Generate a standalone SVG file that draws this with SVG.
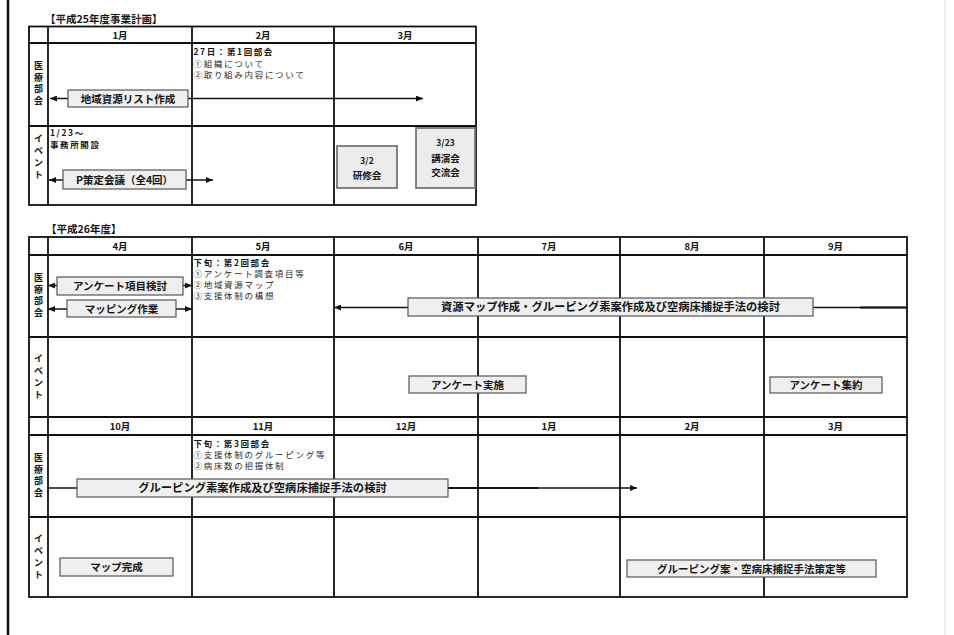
<svg xmlns="http://www.w3.org/2000/svg" width="954" height="635" viewBox="0 0 954 635">
<style>
text{font-family:"Noto Sans CJK JP","Noto Sans",sans-serif;fill:#151515}
.title{font-size:10.5px;font-weight:bold}
.hdr{font-size:9.5px;font-weight:bold;text-anchor:middle}
.lbl{font-size:9px;font-weight:bold;text-anchor:middle}
.note{font-size:8.5px;letter-spacing:1.7px;fill:#2a2a2a}
.noteh{font-size:8.5px;letter-spacing:1.6px;font-weight:bold}
.box rect{fill:#efefef;stroke:#555;stroke-width:1.2}
.box text{font-size:10.5px;font-weight:bold;text-anchor:middle}
.box .big{font-size:11.3px}
.ev rect{fill:#ececec;stroke:#777;stroke-width:1.8}
.ev text{font-weight:bold;text-anchor:middle}
.grid{stroke:#111;stroke-width:1.8;fill:none}
.conn line{stroke:#111;stroke-width:1.3}
</style>
<defs>
<marker id="ah" viewBox="0 0 7 6" refX="7" refY="3" markerWidth="7" markerHeight="6" markerUnits="userSpaceOnUse" orient="auto-start-reverse">
<path d="M0,0 L7,3 L0,6 z" fill="#111"/>
</marker>
</defs>
<rect x="0" y="0" width="954" height="635" fill="#fff"/>
<line x1="8" y1="0" x2="8" y2="635" stroke="#111" stroke-width="2.5"/>
<line x1="945" y1="0" x2="945" y2="635" stroke="#e8e8e8" stroke-width="1.5"/>

<!-- Table 1 -->
<g id="table1">
<text class="title" x="45" y="23">【平成25年度事業計画】</text>
<rect class="grid" x="29" y="26.5" width="447" height="178.5"/>
<line class="grid" x1="29" y1="43" x2="476" y2="43"/>
<line class="grid" x1="29" y1="126" x2="476" y2="126"/>
<line class="grid" x1="48" y1="26.5" x2="48" y2="205"/>
<line class="grid" x1="192" y1="26.5" x2="192" y2="205"/>
<line class="grid" x1="334" y1="26.5" x2="334" y2="205"/>
<text class="hdr" x="120" y="38.5">1月</text>
<text class="hdr" x="263" y="38.5">2月</text>
<text class="hdr" x="405" y="38.5">3月</text>
<text class="lbl" x="38.5" y="69">医</text>
<text class="lbl" x="38.5" y="80.5">療</text>
<text class="lbl" x="38.5" y="92">部</text>
<text class="lbl" x="38.5" y="103.5">会</text>
<text class="lbl" x="38.5" y="142">イ</text>
<text class="lbl" x="38.5" y="154">ベ</text>
<text class="lbl" x="38.5" y="166">ン</text>
<text class="lbl" x="38.5" y="178">ト</text>
</g>

<g id="note-feb">
<text class="noteh" x="193.5" y="55">27日：第1回部会</text>
<text class="note" x="193.5" y="67">①組織について</text>
<text class="note" x="193.5" y="78">②取り組み内容について</text>
</g>
<g id="note-office">
<text class="noteh" x="50" y="136">1/23～</text>
<text class="noteh" x="50" y="148">事務所開設</text>
</g>

<!-- Table 2 -->
<g id="table2">
<text class="title" x="46" y="233">【平成26年度】</text>
<rect class="grid" x="29" y="237" width="878" height="360"/>
<line class="grid" x1="29" y1="255" x2="907" y2="255"/>
<line class="grid" x1="29" y1="337" x2="907" y2="337"/>
<line class="grid" x1="29" y1="417" x2="907" y2="417"/>
<line class="grid" x1="29" y1="435" x2="907" y2="435"/>
<line class="grid" x1="29" y1="517" x2="907" y2="517"/>
<line class="grid" x1="48" y1="237" x2="48" y2="597"/>
<line class="grid" x1="192" y1="237" x2="192" y2="597"/>
<line class="grid" x1="334" y1="237" x2="334" y2="597"/>
<line class="grid" x1="478" y1="237" x2="478" y2="597"/>
<line class="grid" x1="620" y1="237" x2="620" y2="597"/>
<line class="grid" x1="764" y1="237" x2="764" y2="597"/>
<text class="hdr" x="120" y="250">4月</text>
<text class="hdr" x="263" y="250">5月</text>
<text class="hdr" x="406" y="250">6月</text>
<text class="hdr" x="549" y="250">7月</text>
<text class="hdr" x="692" y="250">8月</text>
<text class="hdr" x="835.5" y="250">9月</text>
<text class="hdr" x="120" y="430">10月</text>
<text class="hdr" x="263" y="430">11月</text>
<text class="hdr" x="406" y="430">12月</text>
<text class="hdr" x="549" y="430">1月</text>
<text class="hdr" x="692" y="430">2月</text>
<text class="hdr" x="835.5" y="430">3月</text>
<text class="lbl" x="38.5" y="281">医</text>
<text class="lbl" x="38.5" y="292.5">療</text>
<text class="lbl" x="38.5" y="304">部</text>
<text class="lbl" x="38.5" y="315.5">会</text>
<text class="lbl" x="38.5" y="362">イ</text>
<text class="lbl" x="38.5" y="374">ベ</text>
<text class="lbl" x="38.5" y="386">ン</text>
<text class="lbl" x="38.5" y="398">ト</text>
<text class="lbl" x="38.5" y="461">医</text>
<text class="lbl" x="38.5" y="472.5">療</text>
<text class="lbl" x="38.5" y="484">部</text>
<text class="lbl" x="38.5" y="495.5">会</text>
<text class="lbl" x="38.5" y="542">イ</text>
<text class="lbl" x="38.5" y="554">ベ</text>
<text class="lbl" x="38.5" y="566">ン</text>
<text class="lbl" x="38.5" y="578">ト</text>
</g>

<g id="note-may">
<text class="noteh" x="193.5" y="266">下旬：第2回部会</text>
<text class="note" x="193.5" y="277">①アンケート調査項目等</text>
<text class="note" x="193.5" y="288">②地域資源マップ</text>
<text class="note" x="193.5" y="299">③支援体制の構想</text>
</g>
<g id="note-nov">
<text class="noteh" x="193.5" y="447">下旬：第3回部会</text>
<text class="note" x="193.5" y="458">①支援体制のグルーピング等</text>
<text class="note" x="193.5" y="469">②病床数の把握体制</text>
</g>

<!-- Connectors -->
<g id="connectors" class="conn">
<line x1="50" y1="98.5" x2="423" y2="98.5" marker-start="url(#ah)" marker-end="url(#ah)"/>
<line x1="49" y1="180" x2="213" y2="180" marker-start="url(#ah)" marker-end="url(#ah)"/>
<line x1="48" y1="285.5" x2="192" y2="285.5" marker-start="url(#ah)" marker-end="url(#ah)"/>
<line x1="48" y1="309" x2="192" y2="309" marker-start="url(#ah)" marker-end="url(#ah)"/>
<line x1="334" y1="307.5" x2="907" y2="307.5" marker-start="url(#ah)"/>
<line x1="860" y1="307.5" x2="907" y2="307.5" style="stroke-width:2"/>
<line x1="48" y1="488" x2="637" y2="488" marker-end="url(#ah)"/>
<line x1="448" y1="488" x2="538" y2="488" style="stroke-width:2"/>
</g>

<!-- Nodes -->
<g id="n-list" class="box"><rect x="68" y="90" width="120" height="17"/><text x="128" y="102.5">地域資源リスト作成</text></g>
<g id="n-pmeeting" class="box"><rect x="63" y="170" width="123" height="19"/><text x="124.5" y="183.5">P策定会議（全4回）</text></g>
<g id="n-kenshu" class="ev"><rect x="337" y="146" width="60" height="42"/><text x="367" y="164" font-size="8.5">3/2</text><text x="367" y="178.5" font-size="9.5">研修会</text></g>
<g id="n-koen" class="ev"><rect x="416" y="128" width="59" height="60"/><text x="445.5" y="146" font-size="8.5">3/23</text><text x="445.5" y="162" font-size="9.5">講演会</text><text x="445.5" y="176" font-size="9.5">交流会</text></g>

<g id="n-enq-item" class="box"><rect x="57" y="277" width="126" height="18"/><text x="120" y="290">アンケート項目検討</text></g>
<g id="n-mapping" class="box"><rect x="67" y="300" width="109" height="17"/><text x="121.5" y="312.5">マッピング作業</text></g>
<g id="n-resource" class="box"><rect x="408" y="298" width="405" height="18"/><text class="big" x="610.5" y="311">資源マップ作成・グルーピング素案作成及び空病床捕捉手法の検討</text></g>
<g id="n-enq-do" class="box"><rect x="409" y="376" width="117" height="17"/><text x="467.5" y="388.5">アンケート実施</text></g>
<g id="n-enq-sum" class="box"><rect x="770" y="377" width="112" height="16"/><text x="826" y="389">アンケート集約</text></g>
<g id="n-grouping" class="box"><rect x="77" y="479" width="371" height="18"/><text class="big" x="262.5" y="492">グルーピング素案作成及び空病床捕捉手法の検討</text></g>
<g id="n-mapdone" class="box"><rect x="60" y="558" width="113" height="18"/><text x="116.5" y="571">マップ完成</text></g>
<g id="n-final" class="box"><rect x="627" y="560" width="249" height="17"/><text x="751.5" y="572.5">グルーピング案・空病床捕捉手法策定等</text></g>
</svg>
